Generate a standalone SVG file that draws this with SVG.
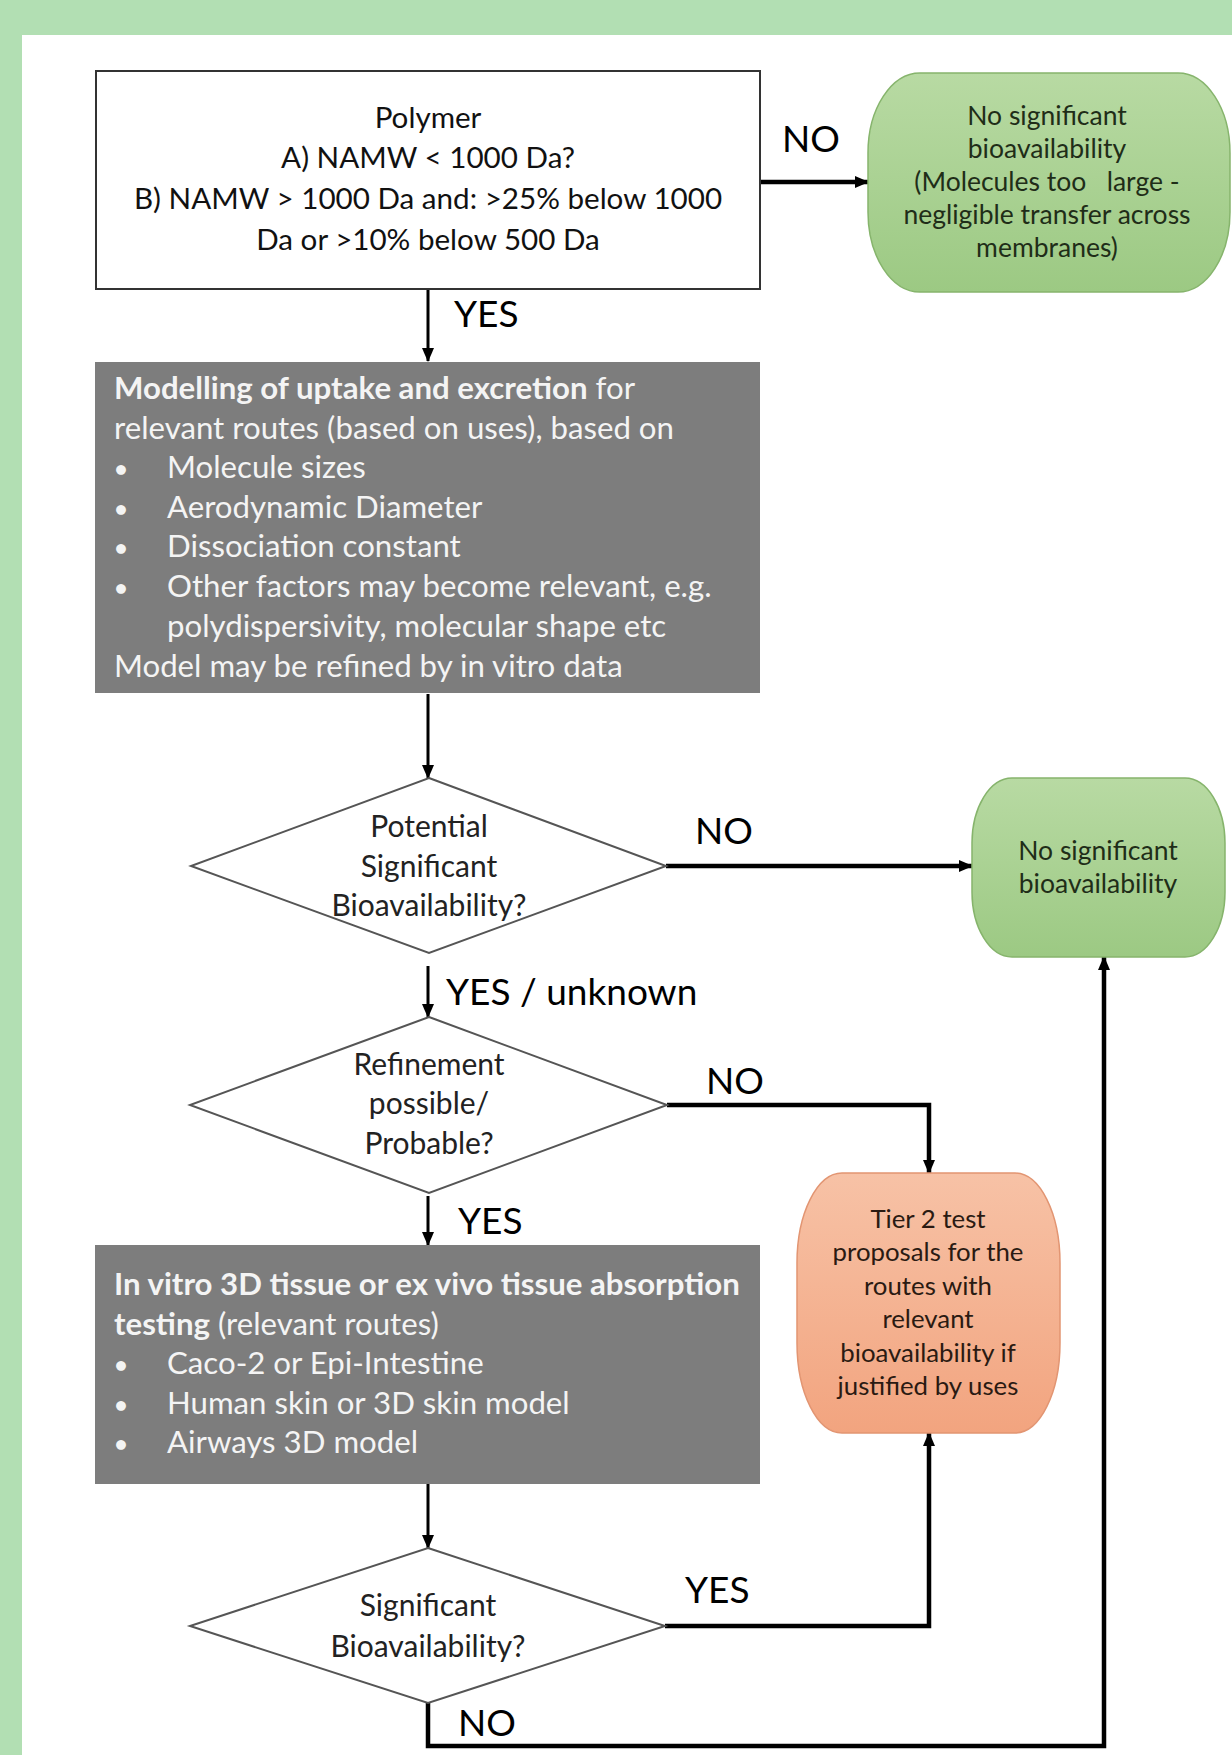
<svg xmlns="http://www.w3.org/2000/svg" width="1232" height="1755" viewBox="0 0 1232 1755">
  <defs>
    <linearGradient id="gGreen" x1="0" y1="0" x2="0" y2="1">
      <stop offset="0" stop-color="#b8daa3"/>
      <stop offset="1" stop-color="#9cc983"/>
    </linearGradient>
    <linearGradient id="gOrange" x1="0" y1="0" x2="0" y2="1">
      <stop offset="0" stop-color="#f7c2a6"/>
      <stop offset="1" stop-color="#f2a47f"/>
    </linearGradient>
    <marker id="arr" viewBox="0 0 14 12" refX="13" refY="6" markerWidth="14" markerHeight="12" markerUnits="userSpaceOnUse" orient="auto">
      <path d="M0,0 L14,6 L0,12 Z" fill="#000"/>
    </marker>
    <style>
      .t { font-family: Lato, "Open Sans", "Liberation Sans", sans-serif; }
      .main { font-size: 29.6px; fill: #111; }
      .dia { font-size: 30px; fill: #222; text-anchor: middle; }
      .lbl { font-size: 37px; fill: #000; }
      .gray { font-size: 31.2px; fill: #f4f4f4; }
      .bul { font-size: 20px; }
      .b { font-weight: bold; }
      .gtxt { font-size: 26.5px; fill: #1f2d18; text-anchor: middle; white-space: pre; }
      .otxt { font-size: 25.8px; fill: #2a1a12; text-anchor: middle; }
      .ln { fill: none; stroke: #000; stroke-width: 3; }
      .thick { fill: none; stroke: #000; stroke-width: 4.5; }
      .diamond { fill: #fff; stroke: #555; stroke-width: 2; }
      .gbox { fill: #7d7d7d; }
    </style>
  </defs>

  <rect x="0" y="0" width="1232" height="1755" fill="#b2dfb3"/>
  <rect x="22" y="35" width="1210" height="1720" fill="#fff"/>

  <g id="connectors">
    <line class="thick" x1="761" y1="182" x2="868" y2="182" marker-end="url(#arr)"/>
    <line class="ln" x1="428" y1="290" x2="428" y2="361" marker-end="url(#arr)"/>
    <line class="ln" x1="428" y1="694" x2="428" y2="778" marker-end="url(#arr)"/>
    <line class="thick" x1="666" y1="866" x2="972" y2="866" marker-end="url(#arr)"/>
    <line class="ln" x1="428" y1="966" x2="428" y2="1017" marker-end="url(#arr)"/>
    <path class="thick" d="M667,1105 H929 V1173" marker-end="url(#arr)"/>
    <line class="ln" x1="428" y1="1196" x2="428" y2="1245" marker-end="url(#arr)"/>
    <line class="ln" x1="428" y1="1484" x2="428" y2="1548" marker-end="url(#arr)"/>
    <path class="thick" d="M665,1626 H929 V1433" marker-end="url(#arr)"/>
    <path class="thick" d="M428,1703 V1746 H1104 V957" marker-end="url(#arr)"/>
  </g>

  <g id="labels" class="t lbl">
    <text x="782" y="152">NO</text>
    <text x="454" y="327">YES</text>
    <text x="695" y="844">NO</text>
    <text x="446" y="1005">YES / unknown</text>
    <text x="706" y="1094">NO</text>
    <text x="458" y="1234">YES</text>
    <text x="685" y="1603">YES</text>
    <text x="458" y="1736">NO</text>
  </g>

  <g id="polymer">
    <rect x="96" y="71" width="664" height="218" fill="#fff" stroke="#333" stroke-width="2"/>
    <g class="t main" text-anchor="middle">
      <text x="428" y="128">Polymer</text>
      <text x="428" y="168">A) NAMW &lt; 1000 Da?</text>
      <text x="428" y="209">B) NAMW &gt; 1000 Da and: &gt;25% below 1000</text>
      <text x="428" y="250">Da or &gt;10% below 500 Da</text>
    </g>
  </g>

  <g id="no-bio-1">
    <rect x="868" y="73" width="362" height="219" rx="52" ry="80" fill="url(#gGreen)" stroke="#86b46c" stroke-width="1.5"/>
    <g class="t gtxt">
      <text x="1047" y="125">No significant</text>
      <text x="1047" y="158">bioavailability</text>
      <text x="1047" y="191" xml:space="preserve">(Molecules too   large -</text>
      <text x="1047" y="224">negligible transfer across</text>
      <text x="1047" y="257">membranes)</text>
    </g>
  </g>

  <g id="modelling">
    <rect class="gbox" x="95" y="362" width="665" height="331"/>
    <g class="t gray">
      <text x="114" y="399"><tspan class="b">Modelling of uptake and excretion</tspan> for</text>
      <text x="114" y="439">relevant routes (based on uses), based on</text>
      <text x="115" y="476" class="bul">●</text><text x="167" y="478">Molecule sizes</text>
      <text x="115" y="516" class="bul">●</text><text x="167" y="518">Aerodynamic Diameter</text>
      <text x="115" y="555" class="bul">●</text><text x="167" y="557">Dissociation constant</text>
      <text x="115" y="595" class="bul">●</text><text x="167" y="597">Other factors may become relevant, e.g.</text>
      <text x="167" y="637">polydispersivity, molecular shape etc</text>
      <text x="114" y="677">Model may be refined by in vitro data</text>
    </g>
  </g>

  <g id="decision-potential">
    <polygon class="diamond" points="429,778 666,866 429,953 191,866"/>
    <g class="t dia">
      <text x="429" y="837">Potential</text>
      <text x="429" y="877">Significant</text>
      <text x="429" y="916">Bioavailability?</text>
    </g>
  </g>

  <g id="no-bio-2">
    <rect x="972" y="778" width="253" height="179" rx="40" ry="65" fill="url(#gGreen)" stroke="#86b46c" stroke-width="1.5"/>
    <g class="t gtxt">
      <text x="1098" y="860">No significant</text>
      <text x="1098" y="893">bioavailability</text>
    </g>
  </g>

  <g id="decision-refinement">
    <polygon class="diamond" points="429,1017 667,1105 429,1193 190,1105"/>
    <g class="t dia">
      <text x="429" y="1075">Refinement</text>
      <text x="429" y="1114">possible/</text>
      <text x="429" y="1154">Probable?</text>
    </g>
  </g>

  <g id="tier2">
    <rect x="797" y="1173" width="263" height="260" rx="45" ry="90" fill="url(#gOrange)" stroke="#e29572" stroke-width="1.5"/>
    <g class="t otxt">
      <text x="928" y="1228">Tier 2 test</text>
      <text x="928" y="1261">proposals for the</text>
      <text x="928" y="1295">routes with</text>
      <text x="928" y="1328">relevant</text>
      <text x="928" y="1362">bioavailability if</text>
      <text x="928" y="1395">justified by uses</text>
    </g>
  </g>

  <g id="invitro">
    <rect class="gbox" x="95" y="1245" width="665" height="239"/>
    <g class="t gray">
      <text x="114" y="1295"><tspan class="b">In vitro 3D tissue or ex vivo tissue absorption</tspan></text>
      <text x="114" y="1335"><tspan class="b">testing</tspan> (relevant routes)</text>
      <text x="115" y="1372" class="bul">●</text><text x="167" y="1374">Caco-2 or Epi-Intestine</text>
      <text x="115" y="1412" class="bul">●</text><text x="167" y="1414">Human skin or 3D skin model</text>
      <text x="115" y="1451" class="bul">●</text><text x="167" y="1453">Airways 3D model</text>
    </g>
  </g>

  <g id="decision-significant">
    <polygon class="diamond" points="428,1548 665,1626 428,1703 190,1626"/>
    <g class="t dia">
      <text x="428" y="1616">Significant</text>
      <text x="428" y="1657">Bioavailability?</text>
    </g>
  </g>
</svg>
